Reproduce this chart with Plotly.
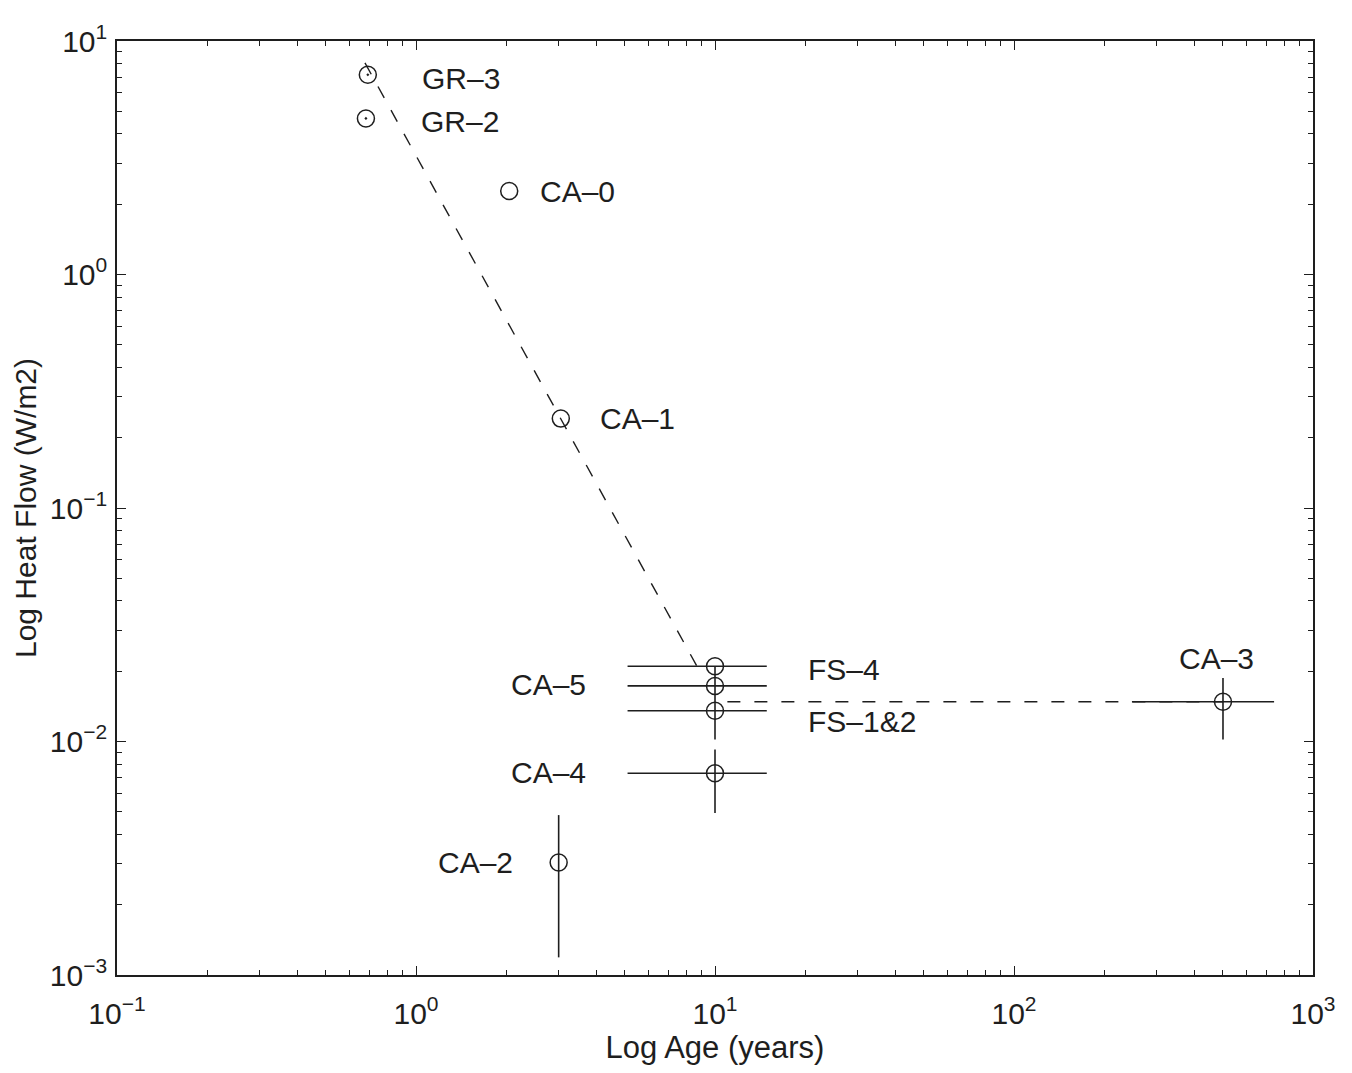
import math
import plotly.graph_objects as go

# ---- data ----
names = ["GR-3", "GR-2", "CA-0", "CA-1", "FS-4", "CA-5", "FS-1&2", "CA-4", "CA-2", "CA-3"]
label_text = ["GR–3", "GR–2", "CA–0", "CA–1", "FS–4", "CA–5", "FS–1&2", "CA–4", "CA–2", "CA–3"]
age = [0.69, 0.68, 2.05, 3.05, 10, 10, 10, 10, 3.0, 500]
heat_flow = [7.17, 4.66, 2.28, 0.2415, 0.0210, 0.0173, 0.01355, 0.00731, 0.00303, 0.0148]

# error ranges (None = no bar)
age_low = [None, None, None, None, 5.1, 5.1, 5.1, 5.1, None, 248]
age_high = [None, None, None, None, 14.9, 14.9, 14.9, 14.9, None, 741]
flow_low = [None, None, None, None, None, None, 0.0102, 0.00494, 0.00119, 0.0102]
flow_high = [None, None, None, None, None, None, 0.0210, 0.00924, 0.00484, 0.0187]

# dashed trend lines
trend1_age = [0.675, 8.7]
trend1_flow = [8.06, 0.0210]
trend2_age = [11, 500]
trend2_flow = [0.0148, 0.0148]

# axis ticks
major_vals_x = [0.1, 1, 10, 100, 1000]
major_text_x = ["10<sup>−1</sup>", "10<sup>0</sup>", "10<sup>1</sup>", "10<sup>2</sup>", "10<sup>3</sup>"]
major_vals_y = [0.001, 0.01, 0.1, 1, 10]
major_text_y = ["10<sup>−3</sup>", "10<sup>−2</sup>", "10<sup>−1</sup>", "10<sup>0</sup>", "10<sup>1</sup>"]

# ---- styling / layout (separate from data) ----
INK = "#1e1e1e"
FONT = "Liberation Sans, Arial, Helvetica, sans-serif"
label_offsets = {  # (xshift px, yshift px, xanchor)
    "GR-3": (52, -4, "left"), "GR-2": (53, -3, "left"), "CA-0": (29, -1, "left"),
    "CA-1": (37, 0, "left"), "FS-4": (91, -3, "left"), "FS-1&2": (91, -11, "left"),
    "CA-5": (-127, 1, "right"), "CA-4": (-127, 1, "right"), "CA-2": (-44, 0, "right"),
    "CA-3": (-6, 43, "center"),
}
symbols = {"GR-3": "circle-open-dot", "GR-2": "circle-open-dot"}

def minor_vals(lo_exp, hi_exp):
    return [m * 10 ** e for e in range(lo_exp, hi_exp) for m in range(2, 10)]

fig = go.Figure()

fig.add_trace(go.Scatter(x=trend1_age, y=trend1_flow, mode="lines",
                         line=dict(color=INK, width=1.4, dash="13px,14px"),
                         showlegend=False, hoverinfo="skip"))
fig.add_trace(go.Scatter(x=trend2_age, y=trend2_flow, mode="lines",
                         line=dict(color=INK, width=1.4, dash="13px,14px"),
                         showlegend=False, hoverinfo="skip"))

for i, n in enumerate(names):
    ex = ey = None
    if age_low[i] is not None:
        ex = dict(type="data", symmetric=False, array=[age_high[i] - age[i]],
                  arrayminus=[age[i] - age_low[i]], width=0, thickness=1.6, color=INK)
    if flow_low[i] is not None:
        ey = dict(type="data", symmetric=False, array=[flow_high[i] - heat_flow[i]],
                  arrayminus=[heat_flow[i] - flow_low[i]], width=0, thickness=1.6, color=INK)
    fig.add_trace(go.Scatter(
        x=[age[i]], y=[heat_flow[i]], mode="markers", name=n,
        marker=dict(symbol=symbols.get(n, "circle-open"), size=17,
                    line=dict(color=INK, width=1.5), color=INK),
        error_x=ex, error_y=ey, showlegend=False))
    dx, dy, xa = label_offsets[n]
    # annotations on log axes take log10 coordinates
    fig.add_annotation(x=math.log10(age[i]), y=math.log10(heat_flow[i]), xref="x", yref="y",
                       text=label_text[i], showarrow=False, xshift=dx, yshift=dy,
                       xanchor=xa, yanchor="middle",
                       font=dict(family=FONT, size=30, color=INK))

axis_common = dict(
    type="log", showgrid=False, zeroline=False, showline=True, linecolor=INK, linewidth=1.6,
    mirror="ticks", ticks="inside", ticklen=9, tickwidth=1.4, tickcolor=INK,
    tickfont=dict(family=FONT, size=30, color=INK),
)

fig.update_xaxes(**axis_common, range=[-1, 3], tickmode="array",
                 tickvals=major_vals_x, ticktext=major_text_x,
                 minor=dict(tickmode="array", tickvals=minor_vals(-1, 3), ticks="inside",
                            ticklen=5, tickwidth=1.2, tickcolor=INK),
                 ticklabelstandoff=11,
                 title=dict(text="Log Age (years)", font=dict(family=FONT, size=31, color=INK),
                            standoff=8))
fig.update_yaxes(**axis_common, range=[-3, 1], tickmode="array",
                 tickvals=major_vals_y, ticktext=major_text_y,
                 minor=dict(tickmode="array", tickvals=minor_vals(-3, 1), ticks="inside",
                            ticklen=5, tickwidth=1.2, tickcolor=INK),
                 ticklabelstandoff=2,
                 title=dict(text="Log Heat Flow (W/m2)", font=dict(family=FONT, size=30, color=INK),
                            standoff=4))

# page body adds an 8 px offset; figure is sized so the frame lands where the reference has it
fig.update_layout(
    width=1344, height=1065, autosize=False,
    margin=dict(l=109, r=39, t=27, b=98),
    paper_bgcolor="white", plot_bgcolor="white",
    font=dict(family=FONT, color=INK),
)

fig.write_html("out.html")
